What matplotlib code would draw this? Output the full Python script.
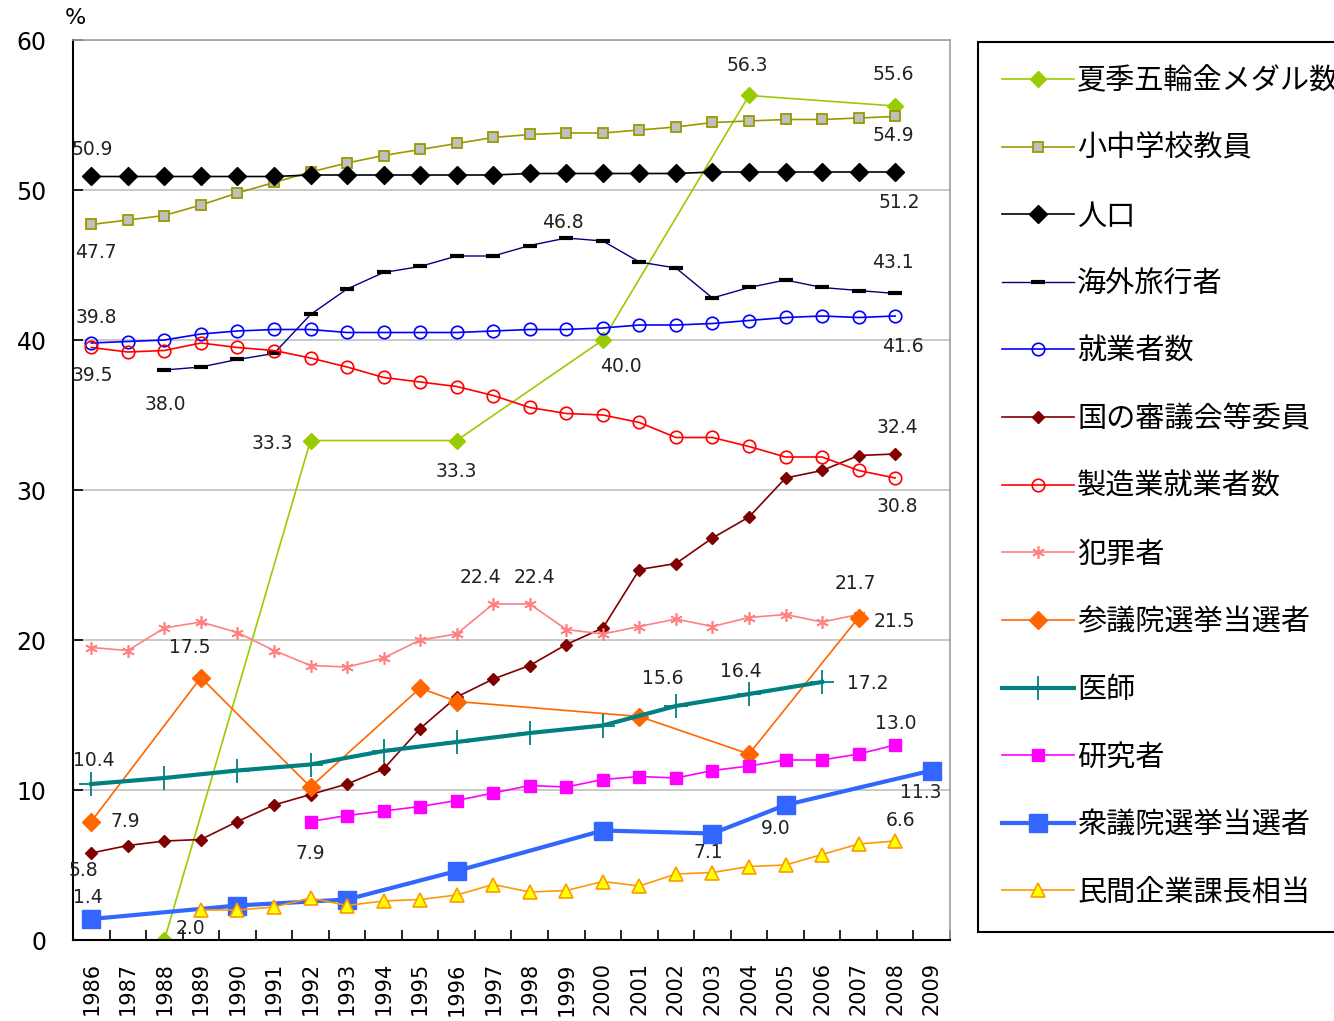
import matplotlib.pyplot as plt
import numpy as np

plt.rcParams['font.family'] = ['DejaVu Sans', 'Noto Sans CJK JP']

years = list(range(1986, 2010))

# data (% share of women)
gold_years = [1988, 1992, 1996, 2000, 2004, 2008]
gold = [0.0, 33.3, 33.3, 40.0, 56.3, 55.6]

teacher_years = list(range(1986, 2009))
teachers = [47.7, 48.0, 48.3, 49.0, 49.8, 50.5, 51.2, 51.8, 52.3, 52.7, 53.1, 53.5,
            53.7, 53.8, 53.8, 54.0, 54.2, 54.5, 54.6, 54.7, 54.7, 54.8, 54.9]

pop_years = list(range(1986, 2009))
population = [50.9, 50.9, 50.9, 50.9, 50.9, 50.9, 51.0, 51.0, 51.0, 51.0, 51.0, 51.0,
              51.1, 51.1, 51.1, 51.1, 51.1, 51.2, 51.2, 51.2, 51.2, 51.2, 51.2]

travel_years = list(range(1988, 2009))
travellers = [38.0, 38.2, 38.7, 39.1, 41.7, 43.4, 44.5, 44.9, 45.6, 45.6, 46.3, 46.8,
              46.6, 45.2, 44.8, 42.8, 43.5, 44.0, 43.5, 43.3, 43.1]

worker_years = list(range(1986, 2009))
workers = [39.8, 39.9, 40.0, 40.4, 40.6, 40.7, 40.7, 40.5, 40.5, 40.5, 40.5, 40.6,
           40.7, 40.7, 40.8, 41.0, 41.0, 41.1, 41.3, 41.5, 41.6, 41.5, 41.6]

council_years = list(range(1986, 2009))
council = [5.8, 6.3, 6.6, 6.7, 7.9, 9.0, 9.7, 10.4, 11.4, 14.1, 16.2, 17.4,
           18.3, 19.7, 20.8, 24.7, 25.1, 26.8, 28.2, 30.8, 31.3, 32.3, 32.4]

manuf_years = list(range(1986, 2009))
manufacturing = [39.5, 39.2, 39.3, 39.8, 39.5, 39.3, 38.8, 38.2, 37.5, 37.2, 36.9, 36.3,
                 35.5, 35.1, 35.0, 34.5, 33.5, 33.5, 32.9, 32.2, 32.2, 31.3, 30.8]

crime_years = list(range(1986, 2008))
crime = [19.5, 19.3, 20.8, 21.2, 20.5, 19.3, 18.3, 18.2, 18.8, 20.0, 20.4, 22.4,
         22.4, 20.7, 20.4, 20.9, 21.4, 20.9, 21.5, 21.7, 21.2, 21.7]

upper_years = [1986, 1989, 1992, 1995, 1996, 2001, 2004, 2007]
upper_house = [7.9, 17.5, 10.2, 16.8, 15.9, 14.9, 12.4, 21.5]

doctor_years = [1986, 1988, 1990, 1992, 1994, 1996, 1998, 2000, 2002, 2004, 2006]
doctors = [10.4, 10.8, 11.3, 11.7, 12.6, 13.2, 13.8, 14.3, 15.6, 16.4, 17.2]

research_years = list(range(1992, 2009))
researchers = [7.9, 8.3, 8.6, 8.9, 9.3, 9.8, 10.3, 10.2, 10.7, 10.9, 10.8, 11.3,
               11.6, 12.0, 12.0, 12.4, 13.0]

lower_years = [1986, 1990, 1993, 1996, 2000, 2003, 2005, 2009]
lower_house = [1.4, 2.3, 2.7, 4.6, 7.3, 7.1, 9.0, 11.3]

manager_years = list(range(1989, 2009))
managers = [2.0, 2.0, 2.2, 2.8, 2.3, 2.6, 2.7, 3.0, 3.7, 3.2, 3.3, 3.9, 3.6, 4.4,
            4.5, 4.9, 5.0, 5.7, 6.4, 6.6]

series = [
    ("夏季五輪金メダル数", gold_years, gold,
     dict(color="#99CC00", lw=1.2, marker="D", ms=8, mfc="#99CC00", mec="#99CC00")),
    ("小中学校教員", teacher_years, teachers,
     dict(color="#999900", lw=1.2, marker="s", ms=7, mfc="#C0C0C0", mec="#999900", mew=1.3)),
    ("人口", pop_years, population,
     dict(color="black", lw=1.2, marker="D", ms=9, mfc="black", mec="black")),
    ("海外旅行者", travel_years, travellers,
     dict(color="#000080", lw=1.0, marker="_", ms=10, mec="black", mew=3)),
    ("就業者数", worker_years, workers,
     dict(color="#0000FF", lw=1.2, marker="o", ms=9, mfc="none", mec="#0000FF", mew=1.2)),
    ("国の審議会等委員", council_years, council,
     dict(color="#800000", lw=1.2, marker="D", ms=6, mfc="#800000", mec="#800000")),
    ("製造業就業者数", manuf_years, manufacturing,
     dict(color="#FF0000", lw=1.2, marker="o", ms=9, mfc="none", mec="#FF0000", mew=1.2)),
    ("犯罪者", crime_years, crime,
     dict(color="#FF8080", lw=1.2, marker=(6, 2, 0), ms=9, mec="#FF8080", mew=1.2)),
    ("参議院選挙当選者", upper_years, upper_house,
     dict(color="#FF6600", lw=1.2, marker="D", ms=9, mfc="#FF6600", mec="#FF6600")),
    ("医師", doctor_years, doctors,
     dict(color="#008080", lw=3, marker="+", ms=17, mec="#008080", mew=1.3)),
    ("研究者", research_years, researchers,
     dict(color="#FF00FF", lw=1.2, marker="s", ms=8, mfc="#FF00FF", mec="#FF00FF")),
    ("衆議院選挙当選者", lower_years, lower_house,
     dict(color="#3366FF", lw=3, marker="s", ms=13, mfc="#3366FF", mec="#3366FF")),
    ("民間企業課長相当", manager_years, managers,
     dict(color="#FF9900", lw=1.2, marker="^", ms=10, mfc="#FFFF00", mec="#FF9900", mew=1.2)),
]

# (series index, year, offset in pixels)
point_labels = [
    (2, 1986, (1, 27)), (1, 1986, (5, -28)), (4, 1986, (5, 26)), (6, 1986, (1, -28)),
    (3, 1988, (1, -35)), (0, 1992, (-38, -3)), (0, 1996, (0, -31)), (0, 2000, (18, -27)),
    (3, 1999, (-3, 16)), (0, 2004, (-2, 30)), (0, 2008, (-2, 31)), (1, 2008, (-2, -19)),
    (2, 2008, (4, -30)), (3, 2008, (-2, 31)), (4, 2008, (8, -31)), (5, 2008, (2, 27)),
    (6, 2008, (2, -28)), (7, 1997, (-13, 27)), (7, 1998, (5, 27)), (7, 2007, (-3, 31)),
    (8, 2007, (36, -4)), (8, 1989, (-11, 30)), (9, 2002, (-13, 28)), (9, 2004, (-8, 23)),
    (9, 2006, (46, -1)), (10, 2008, (1, 22)), (9, 1986, (3, 24)), (8, 1986, (34, 0)),
    (11, 2009, (-11, -22)), (12, 2008, (5, 21)), (11, 2005, (-10, -23)),
    (11, 2003, (-4, -19)), (10, 1992, (0, -32)), (5, 1986, (-8, -17)),
    (11, 1986, (-3, 22)), (12, 1989, (-10, -18)),
]

fig = plt.figure(figsize=(13.34, 10.21), dpi=100)
ax = fig.add_axes([73 / 1334, 1 - 940 / 1021, 877 / 1334, 900 / 1021])

handles = []
for name, yrs, vals, style in series:
    xs = [years.index(y) for y in yrs]
    (h,) = ax.plot(xs, vals, label=name, **style)
    handles.append(h)

for si, yr, off in point_labels:
    name, yrs, vals, style = series[si]
    v = vals[yrs.index(yr)]
    ax.annotate(f"{v:.1f}", (years.index(yr), v), xytext=off,
                textcoords="offset pixels", ha="center", va="center",
                fontsize=13.5, color="#222222")

ax.set_xlim(-0.5, len(years) - 0.5)
ax.set_ylim(0, 60)
ax.set_yticks(range(0, 61, 10))
ax.set_xticks(range(len(years)))
ax.set_xticklabels([str(y) for y in years], rotation=90, fontsize=15)
ax.set_xticks(np.arange(-0.5, len(years), 1), minor=True)
ax.tick_params(axis="x", which="major", length=0, pad=16)
ax.tick_params(axis="x", which="minor", direction="in", length=7, width=1.2)
ax.tick_params(axis="y", direction="in", length=7, width=1.2, labelsize=17, pad=19)
ax.yaxis.grid(True, color="#C0C0C0", lw=1.2)
ax.set_axisbelow(True)
for s in ["left", "bottom"]:
    ax.spines[s].set_color("black")
    ax.spines[s].set_linewidth(1.5)
for s in ["top", "right"]:
    ax.spines[s].set_color("#A0A0A0")
    ax.spines[s].set_linewidth(1.2)

fig.text(75 / 1334, 1 - 18 / 1021, "%", ha="center", va="center", fontsize=16)

leg = fig.legend(handles=handles, loc="upper left",
                 bbox_to_anchor=(978 / 1334, 1 - 42 / 1021),
                 prop={"family": ["Noto Sans CJK JP", "DejaVu Sans"], "size": 21},
                 frameon=True, fancybox=False, edgecolor="black", framealpha=1,
                 handlelength=2.45, handletextpad=0.12, labelspacing=1.29,
                 borderpad=0.83, borderaxespad=0)
leg.get_frame().set_linewidth(1.5)

plt.savefig("out.png", dpi=100)
